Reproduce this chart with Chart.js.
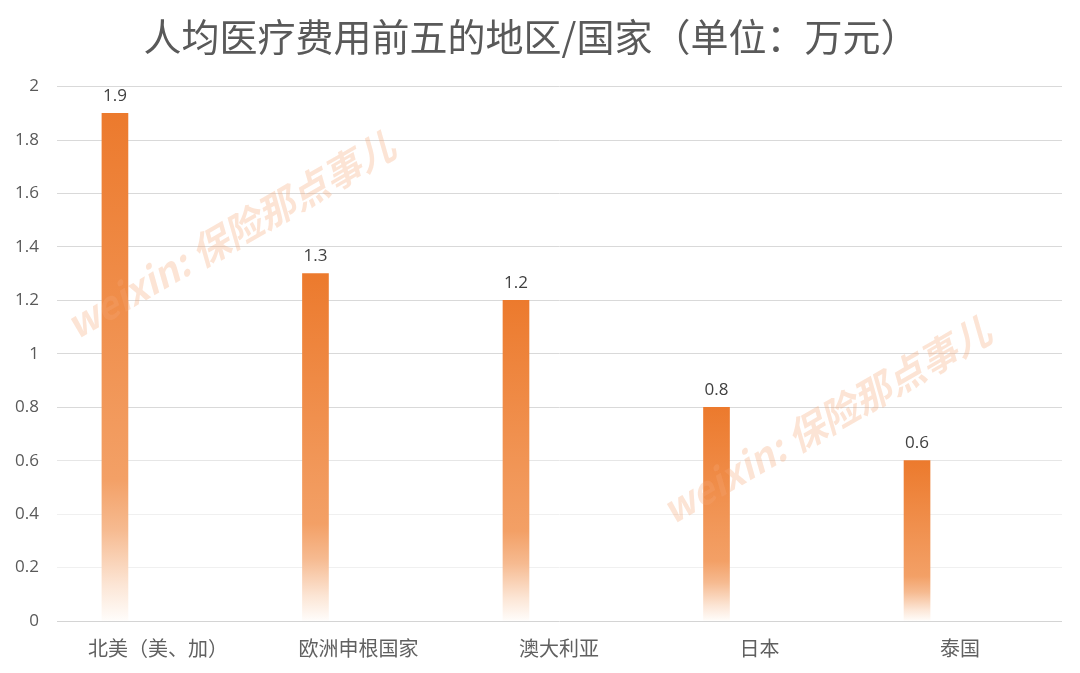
<!DOCTYPE html>
<html>
<head>
<meta charset="utf-8">
<script src="https://cdn.jsdelivr.net/npm/chart.js@4/dist/chart.umd.min.js"></script>
<style>
  html, body { margin: 0; padding: 0; background: #ffffff; }
  #wrap { width: 1080px; height: 673px; position: relative; }
</style>
</head>
<body>
<div id="wrap"><canvas id="c" width="1080" height="673"></canvas></div>
<script>
const titleText = "人均医疗费用前五的地区/国家（单位：万元）";
const categories = ["北美（美、加）", "欧洲申根国家", "澳大利亚", "日本", "泰国"];
const values = [1.9, 1.3, 1.2, 0.8, 0.6];
const yMin = 0, yMax = 2, yStep = 0.2;
const watermarkText = "weixin: 保险那点事儿";

const points = values.map((v, i) => ({ x: i, y: v }));

function barGradient(ctx) {
  const chart = ctx.chart;
  const area = chart.chartArea;
  if (!area || !ctx.raw) return "#ED7D31";
  const y = chart.scales.y;
  const top = y.getPixelForValue(ctx.raw.y);
  const bottom = y.getPixelForValue(0);
  const g = chart.ctx.createLinearGradient(0, top, 0, bottom);
  g.addColorStop(0, "#EC7A2D");
  g.addColorStop(0.72, "#F3A066");
  g.addColorStop(0.82, "#F6BA90");
  g.addColorStop(0.93, "#FCE6D6");
  g.addColorStop(1, "#FFFDFB");
  return g;
}

function gridColor(ctx) {
  const v = ctx.tick ? Math.round(ctx.tick.value * 10) / 10 : null;
  if (v === 0) return "#d4d4d4";
  if (v === 0.2 || v === 0.4) return "#f0f0f0";
  if (v === 0.6) return "#e6e6e6";
  return "#d9d9d9";
}

const valueLabels = {
  id: "valueLabels",
  afterDatasetsDraw(chart) {
    const c = chart.ctx;
    const meta = chart.getDatasetMeta(0);
    c.save();
    c.font = "17px 'Open Sans', sans-serif";
    c.fillStyle = "#404040";
    c.textAlign = "center";
    c.textBaseline = "bottom";
    meta.data.forEach((bar, i) => {
      c.fillText(String(values[i]), bar.x, bar.y - 9);
    });
    c.restore();
  }
};

const watermark = {
  id: "watermark",
  afterDatasetsDraw(chart) {
    const c = chart.ctx;
    const spots = [[230, 235], [826, 420]];
    c.save();
    c.font = "italic bold 38px 'Noto Sans CJK SC', sans-serif";
    c.fillStyle = "rgba(246, 165, 115, 0.30)";
    c.textAlign = "center";
    c.textBaseline = "middle";
    spots.forEach(([x, y]) => {
      c.save();
      c.translate(x, y);
      c.rotate(-30 * Math.PI / 180);
      c.fillText(watermarkText, 0, 0);
      c.restore();
    });
    c.restore();
  }
};

new Chart(document.getElementById("c"), {
  type: "bar",
  data: {
    datasets: [{
      data: points,
      backgroundColor: barGradient,
      borderWidth: 0,
      barThickness: 26
    }]
  },
  options: {
    responsive: false,
    animation: false,
    devicePixelRatio: 1,
    layout: { padding: { left: 0, right: 18, top: 0, bottom: 6 } },
    plugins: {
      legend: { display: false },
      tooltip: { enabled: false },
      title: {
        display: true,
        text: titleText,
        color: "#595959",
        font: { size: 38, family: "'Noto Sans CJK SC', sans-serif", weight: "normal" },
        padding: { top: 14, bottom: 27 }
      }
    },
    scales: {
      x: {
        type: "linear",
        offset: false,
        min: -0.289,
        max: 4.723,
        grid: { display: false },
        border: { display: false },
        ticks: {
          autoSkip: false,
          maxRotation: 0,
          labelOffset: 43,
          color: "#606060",
          font: { size: 20, family: "'Noto Sans CJK SC', sans-serif" },
          padding: 7,
          callback: v => (Number.isInteger(v) && categories[v] !== undefined) ? categories[v] : ""
        },
        afterBuildTicks(s) { s.ticks = categories.map((_, i) => ({ value: i })); },
        afterFit(s) { s.height = 46; }
      },
      y: {
        min: yMin,
        max: yMax,
        ticks: {
          stepSize: yStep,
          color: "#595959",
          font: { size: 17, family: "'Open Sans', sans-serif" },
          padding: 18,
          callback: v => String(Number(v.toFixed(1)))
        },
        grid: { color: gridColor, lineWidth: 1, drawTicks: false },
        border: { display: false },
        afterFit(s) { s.width = 57; }
      }
    }
  },
  plugins: [valueLabels, watermark]
});
</script>
</body>
</html>
